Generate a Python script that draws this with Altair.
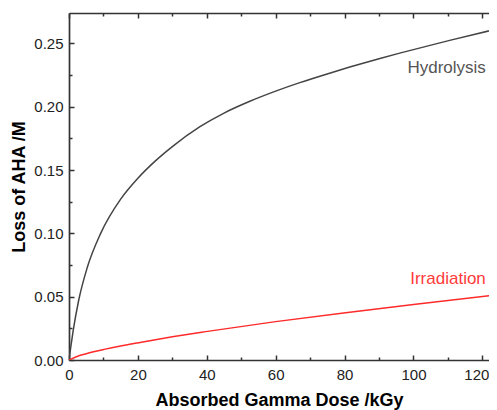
import altair as alt
import pandas as pd

# ---- data ----
hyd_x = [0, 0.5, 1.2, 2.8, 5.3, 9.2, 15, 20, 25, 30, 37.9, 45, 52.5, 60, 67, 74, 81.5, 90, 96, 110.5, 125]
hyd_y = [0, 0.010, 0.023, 0.047, 0.073, 0.100, 0.127, 0.1435, 0.1570, 0.1685, 0.1840, 0.1950,
         0.2043, 0.2123, 0.2190, 0.2251, 0.2313, 0.2379, 0.2423, 0.2524, 0.2619]

irr_x = [0, 2.5, 5, 10.2, 15, 20.3, 30, 39.7, 60, 80.3, 100.6, 125]
irr_y = [0, 0.0030, 0.0050, 0.0084, 0.0111, 0.0137, 0.0183, 0.0224, 0.0303, 0.0374, 0.0440, 0.0516]

label_text = ["Hydrolysis", "Irradiation"]
label_x = [121, 121]
label_y = [0.2269, 0.0597]

x_major = [0, 20, 40, 60, 80, 100, 120]
x_minor = [10, 30, 50, 70, 90, 110]
y_major = [0, 0.05, 0.10, 0.15, 0.20, 0.25]
y_minor = [0.025, 0.075, 0.125, 0.175, 0.225]

hyd = pd.DataFrame({"x": hyd_x, "y": hyd_y})
irr = pd.DataFrame({"x": irr_x, "y": irr_y})
lab_h = pd.DataFrame({"x": label_x[:1], "y": label_y[:1], "t": label_text[:1]})
lab_i = pd.DataFrame({"x": label_x[1:], "y": label_y[1:], "t": label_text[1:]})

FONT = "Liberation Sans"
TICK = "#333333"
xs = alt.Scale(domain=[0, 121.92], nice=False, zero=False)
ys = alt.Scale(domain=[0, 0.274], nice=False, zero=False)
last_x = "datum.value == %d" % x_major[-1]


def axis(orient, values, size, labels=False, **kw):
    return alt.Axis(orient=orient, values=values, tickSize=size, offset=-size,
                    domain=False, grid=False, ticks=True, tickColor=TICK,
                    tickWidth=1.5, labels=labels, labelFlush=False,
                    labelOverlap=False, **kw)


def frame(orient):
    return alt.Axis(orient=orient, domain=True, domainColor=TICK, domainWidth=1.7,
                    ticks=False, labels=False, grid=False, title=None)


bottom_major = axis("bottom", x_major, 5, labels=True, format="d",
                    labelPadding=7, labelFont=FONT, labelFontSize=15,
                    labelColor="#222222",
                    labelAlign={"condition": {"test": last_x, "value": "right"}, "value": "center"},
                    labelOffset={"condition": {"test": last_x, "value": 6.5}, "value": 0},
                    title="Absorbed Gamma Dose /kGy", titleFont=FONT,
                    titleFontSize=18, titleFontWeight="bold", titleColor="#000000",
                    titlePadding=9)
left_major = axis("left", y_major, 5, labels=True, format=".2f",
                  labelPadding=6, labelFont=FONT, labelFontSize=15,
                  labelColor="#222222",
                  title="Loss of AHA /M", titleFont=FONT, titleFontSize=18,
                  titleFontWeight="bold", titleColor="#000000", titlePadding=5)
top_major = axis("top", x_major, 5, title=None)
bottom_minor = axis("bottom", x_minor, 3, title=None)
left_minor = axis("left", y_minor, 3, title=None)
top_minor = axis("top", x_minor, 3, title=None)

l1 = alt.Chart(hyd).mark_line(color="#444444", strokeWidth=1.5, interpolate="monotone",
                              clip=True).encode(
    x=alt.X("x:Q", scale=xs, axis=bottom_major),
    y=alt.Y("y:Q", scale=ys, axis=left_major),
)
l2 = alt.Chart(irr).mark_line(color="#ff2a2a", strokeWidth=1.5, interpolate="monotone",
                              clip=True).encode(
    x=alt.X("x:Q", scale=xs, axis=top_major),
    y=alt.Y("y:Q", scale=ys, axis=None),
)
t1 = alt.Chart(lab_h).mark_text(align="right", baseline="alphabetic", font=FONT,
                                fontSize=17, color="#555555").encode(
    x=alt.X("x:Q", scale=xs, axis=bottom_minor),
    y=alt.Y("y:Q", scale=ys, axis=left_minor),
    text="t:N",
)
t2 = alt.Chart(lab_i).mark_text(align="right", baseline="alphabetic", font=FONT,
                                fontSize=17, color="#ff3b3b").encode(
    x=alt.X("x:Q", scale=xs, axis=top_minor),
    y=alt.Y("y:Q", scale=ys, axis=None),
    text="t:N",
)
# invisible layers that only carry the frame lines (bottom, left, top)
f1 = alt.Chart(lab_h).mark_point(opacity=0).encode(
    x=alt.X("x:Q", scale=xs, axis=frame("bottom")),
    y=alt.Y("y:Q", scale=ys, axis=frame("left")),
)
f2 = alt.Chart(lab_i).mark_point(opacity=0).encode(
    x=alt.X("x:Q", scale=xs, axis=frame("top")),
    y=alt.Y("y:Q", scale=ys, axis=None),
)

chart = alt.layer(f1, f2, l1, l2, t1, t2).resolve_axis(
    x="independent", y="independent"
).properties(
    width=420, height=347,
    autosize=alt.AutoSizeParams(type="none"),
    padding={"left": 61, "top": 5, "right": 0, "bottom": 50},
    background="white",
).configure_view(strokeWidth=0)

chart.save("out.html", embed_options={"renderer": "svg", "actions": False})
